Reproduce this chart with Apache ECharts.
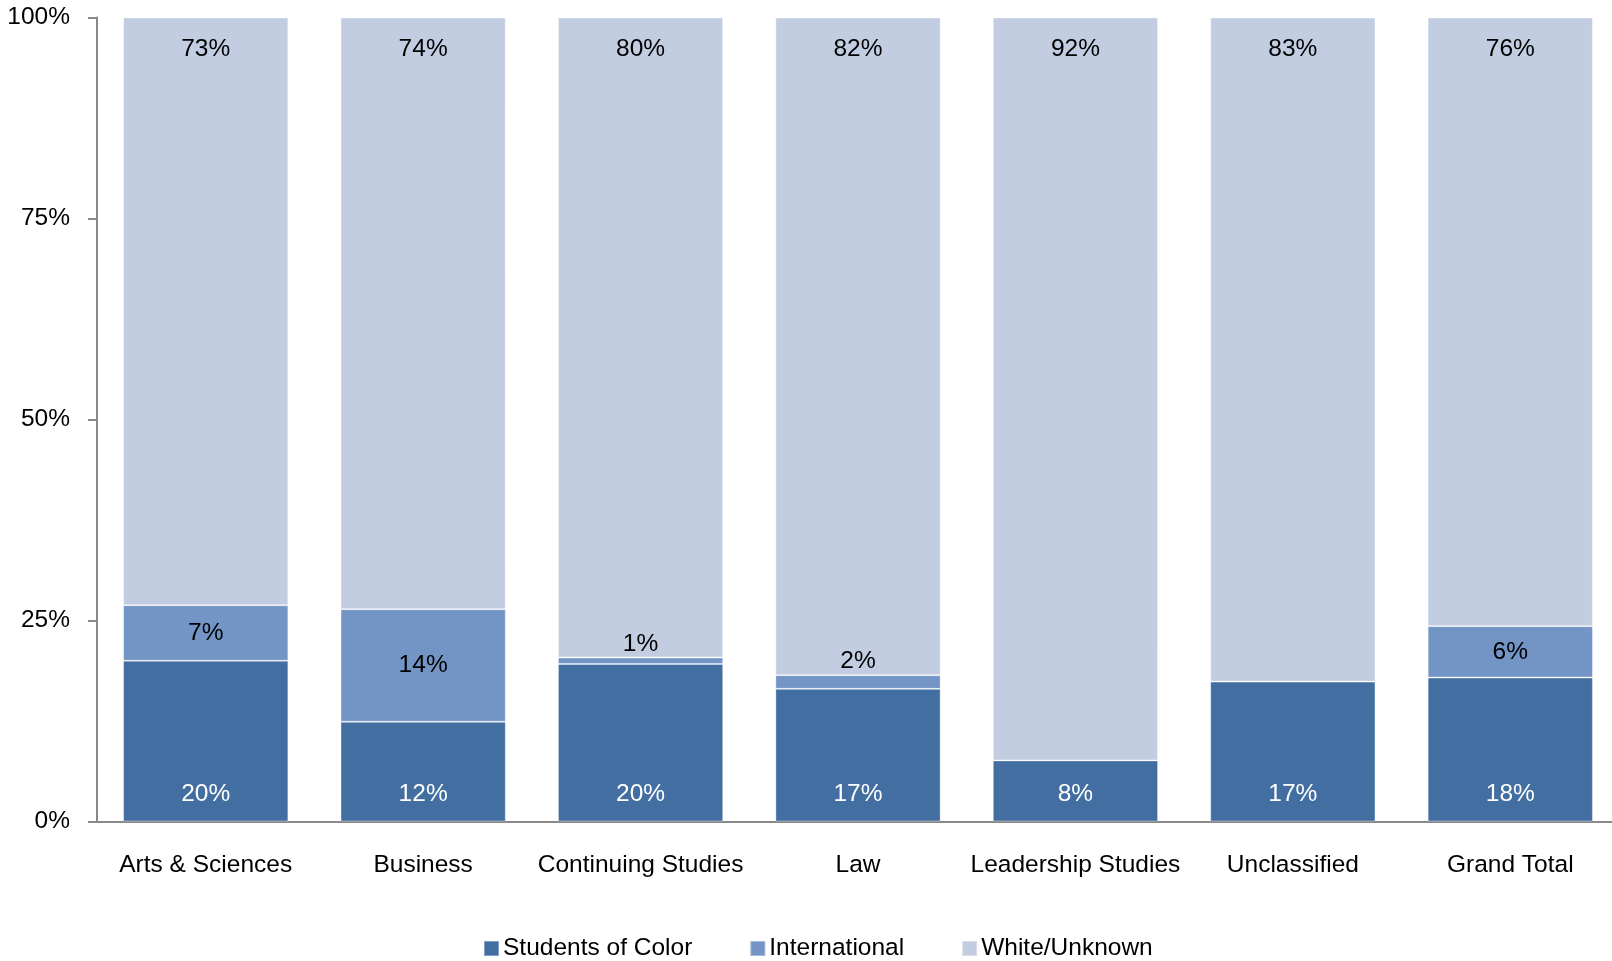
<!DOCTYPE html>
<html>
<head>
<meta charset="utf-8">
<script src="https://cdn.jsdelivr.net/npm/echarts@6/dist/echarts.min.js"></script>
<style>
html,body{margin:0;padding:0;background:#fff;}
#chart{width:1612px;height:961px;}
</style>
</head>
<body>
<div id="chart"></div>
<script>
const categories = ['Arts & Sciences','Business','Continuing Studies','Law','Leadership Studies','Unclassified','Grand Total'];
const studentsOfColor = [20.0, 12.4, 19.6, 16.5, 7.6, 17.4, 17.9];
const international = [6.9, 14.0, 0.8, 1.7, 0, 0, 6.4];
const whiteUnknown = [73.1, 73.6, 79.6, 81.8, 92.4, 82.6, 75.7];
const yTicks = [0, 25, 50, 75, 100];

const FONT = 'Liberation Sans';
const fs = 24.5;

function pct(v){ return Math.round(v) + '%'; }

const chart = echarts.init(document.getElementById('chart'), null, {renderer:'canvas'});
const border = {borderColor:'rgba(255,255,255,0.35)', borderWidth:1};

chart.setOption({
  animation:false,
  backgroundColor:'#fff',
  textStyle:{fontFamily:FONT},
  grid:{left:97, width:1522, top:17.5, bottom:139.5, containLabel:false, outerBoundsMode:'none'},
  legend:{
    left:478, top:931,
    itemWidth:15, itemHeight:15, itemGap:57,
    icon:'rect',
    textStyle:{fontFamily:FONT, fontSize:fs, color:'#000', padding:[0,0,0,-1]},
    data:[
      {name:'Students of Color'},
      {name:'International', textStyle:{padding:[0,8,0,-1]}},
      {name:'White/Unknown'}
    ]
  },
  xAxis:{
    type:'category', data:categories,
    axisLine:{lineStyle:{color:'#898989', width:2}},
    axisTick:{show:false},
    axisLabel:{fontFamily:FONT, fontSize:fs, color:'#000', margin:31, interval:0}
  },
  yAxis:{
    type:'value', min:yTicks[0], max:yTicks[yTicks.length-1], interval:25,
    axisLine:{show:true, lineStyle:{color:'#898989', width:2}},
    axisTick:{show:true, length:9, lineStyle:{color:'#898989', width:2}},
    splitLine:{show:false},
    axisLabel:{fontFamily:FONT, fontSize:fs, color:'#000', margin:27, formatter:'{value}%'}
  },
  series:[
    {
      name:'Students of Color', type:'bar', stack:'a', barCategoryGap:'24%',
      itemStyle:Object.assign({color:'#426EA1'}, border),
      label:{show:true, position:'insideBottom', distance:15, color:'#fff', fontFamily:FONT, fontSize:fs,
        formatter:p=>pct(p.value)},
      data:studentsOfColor
    },
    {
      name:'International', type:'bar', stack:'a',
      itemStyle:Object.assign({color:'#7395C6'}, border),
      data:international.map(v=>({
        value:v,
        label: v<=0 ? {show:false} :
          (v<3 ? {show:true, position:'top', distance:1, color:'#000', fontFamily:FONT, fontSize:fs, formatter:p=>pct(p.value)}
               : {show:true, position:'inside', color:'#000', fontFamily:FONT, fontSize:fs, formatter:p=>pct(p.value)})
      }))
    },
    {
      name:'White/Unknown', type:'bar', stack:'a',
      itemStyle:Object.assign({color:'#C3CDE2'}, border),
      label:{show:true, position:'insideTop', distance:19, color:'#000', fontFamily:FONT, fontSize:fs,
        formatter:p=>pct(p.value)},
      data:whiteUnknown
    }
  ]
});
</script>
</body>
</html>
